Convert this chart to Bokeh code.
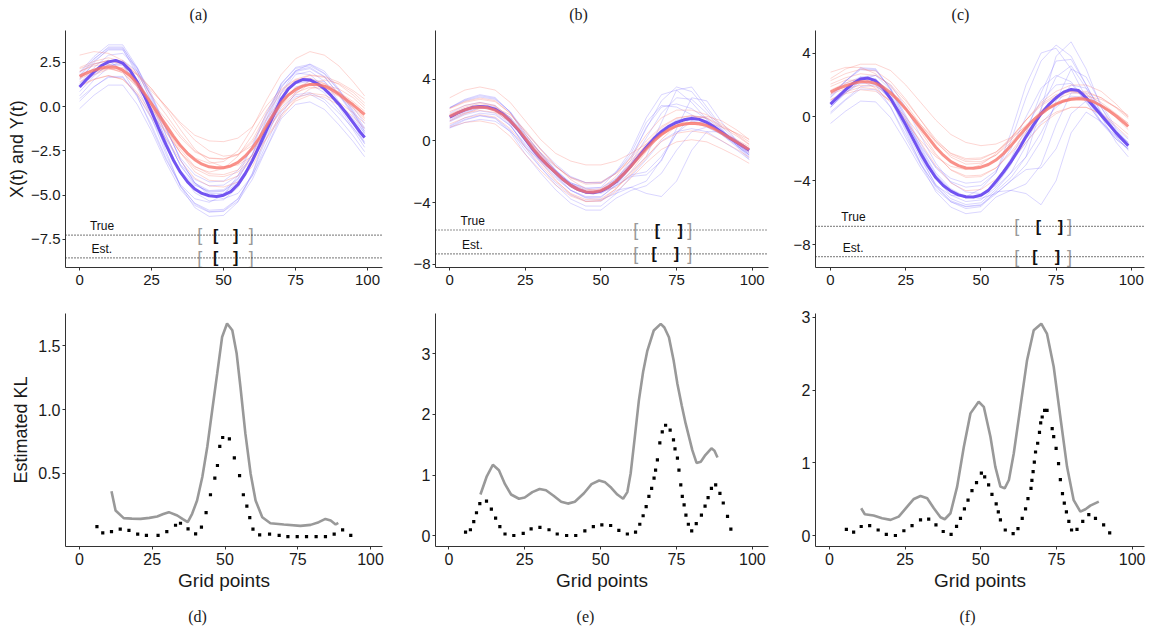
from bokeh.plotting import figure
from bokeh.layouts import column, row
from bokeh.models import Span, FixedTicker, Range1d
from bokeh.core.properties import value
from bokeh.embed import file_html
from bokeh.resources import INLINE

# ---------------- data ----------------
T = [0, 5, 10, 15, 20, 25, 30, 35, 40, 45, 50, 55, 60, 65, 70, 75, 80, 85, 90, 95, 99]
T2 = [0, 2.5, 5, 7.5, 10, 12.5, 15, 17.5, 20, 22.5, 25, 27.5, 30, 32.5, 35, 37.5, 40, 42.5, 45, 47.5,
      50, 52.5, 55, 57.5, 60, 62.5, 65, 67.5, 70, 72.5, 75, 77.5, 80, 82.5, 85, 87.5, 90, 92.5, 95, 97.5, 99]

# Panel (a)
A_blue_main = [1.1, 1.55, 1.95, 2.3, 2.52, 2.6, 2.45, 2.05, 1.4, 0.6, -0.3, -1.25, -2.15, -3.0, -3.7, -4.25, -4.65, -4.9, -5.03, -5.07,
               -5.0, -4.8, -4.4, -3.8, -3.05, -2.2, -1.3, -0.45, 0.4, 1.0, 1.35, 1.52, 1.5, 1.3, 1.0, 0.6, 0.15, -0.35, -0.9, -1.45, -1.75]
A_red_main = [1.7, 1.9, 2.05, 2.18, 2.25, 2.22, 2.05, 1.75, 1.3, 0.75, 0.15, -0.45, -1.05, -1.65, -2.2, -2.65, -3.0, -3.25, -3.4, -3.45,
              -3.45, -3.35, -3.15, -2.8, -2.35, -1.75, -1.05, -0.4, 0.2, 0.65, 0.95, 1.15, 1.25, 1.25, 1.15, 0.95, 0.7, 0.4, 0.1, -0.25, -0.45]
A_blue_faint = [
    [1.75, 2.67, 3.36, 3.36, 2.04, 0.2, -1.93, -3.77, -4.86, -5.32, -5.26, -4.57, -3.08, -0.95, 1.06, 2.04, 2.21, 1.7, 0.66, -0.49, -1.53],
    [0.84, 1.72, 2.38, 2.38, 1.11, -0.65, -2.69, -4.45, -5.49, -5.93, -5.88, -5.22, -3.79, -1.75, 0.18, 1.11, 1.28, 0.78, -0.21, -1.31, -2.3],
    [1.07, 1.79, 2.33, 2.33, 1.29, -0.15, -1.82, -3.26, -4.11, -4.47, -4.43, -3.89, -2.72, -1.05, 0.53, 1.29, 1.43, 1.02, 0.21, -0.69, -1.5],
    [1.9, 2.7, 3.3, 3.3, 2.15, 0.55, -1.3, -2.9, -3.85, -4.25, -4.2, -3.6, -2.3, -0.45, 1.3, 2.15, 2.3, 1.85, 0.95, -0.05, -0.95],
    [0.3, 1.1, 1.7, 1.7, 0.55, -1.05, -2.9, -4.5, -5.45, -5.85, -5.8, -5.2, -3.9, -2.05, -0.3, 0.55, 0.7, 0.25, -0.65, -1.65, -2.55],
    [1.49, 2.49, 3.24, 3.24, 1.8, -0.2, -2.51, -4.51, -5.7, -6.2, -6.14, -5.39, -3.76, -1.45, 0.74, 1.8, 1.99, 1.43, 0.3, -0.95, -2.08],
    [0.45, 1.13, 1.64, 1.64, 0.66, -0.7, -2.27, -3.63, -4.44, -4.78, -4.74, -4.23, -3.12, -1.55, -0.06, 0.66, 0.79, 0.41, -0.36, -1.21, -1.98],
    [1.72, 2.56, 3.19, 3.19, 1.98, 0.3, -1.64, -3.32, -4.32, -4.74, -4.69, -4.06, -2.69, -0.75, 1.09, 1.98, 2.14, 1.67, 0.72, -0.33, -1.28],
    [-0.12, 0.64, 1.21, 1.21, 0.12, -1.4, -3.16, -4.68, -5.58, -5.96, -5.91, -5.34, -4.11, -2.35, -0.69, 0.12, 0.26, -0.16, -1.02, -1.97, -2.83],
    [1.94, 2.82, 3.48, 3.48, 2.21, 0.45, -1.59, -3.35, -4.39, -4.83, -4.78, -4.12, -2.69, -0.65, 1.28, 2.21, 2.38, 1.88, 0.89, -0.21, -1.2],
    [0.6, 1.5, 2.2, 2.6, 2.0, 0.6, -1.2, -3.0, -4.3, -5.0, -5.2, -4.9, -3.9, -2.3, -0.5, 0.8, 1.5, 1.4, 0.7, -0.4, -1.4],
    [1.6, 2.4, 2.6, 2.0, 0.6, -1.2, -3.0, -4.4, -5.2, -5.4, -5.0, -3.9, -2.2, -0.3, 1.2, 1.9, 1.8, 1.1, 0.0, -1.2, -2.1],
    [1.3, 2.2, 2.9, 3.0, 2.2, 0.7, -1.2, -3.0, -4.3, -4.9, -4.9, -4.3, -3.0, -1.1, 0.8, 2.0, 2.4, 2.0, 1.0, -0.3, -1.4],
]
A_red_faint = [
    [2.2, 2.55, 2.75, 2.55, 1.8, 0.6, -0.45, -1.6, -2.5, -2.9, -2.95, -2.7, -1.9, -0.4, 0.75, 1.45, 1.75, 1.65, 1.25, 0.65, 0.05],
    [1.2, 1.55, 1.75, 1.55, 0.8, -0.4, -1.45, -2.6, -3.5, -3.9, -3.95, -3.7, -2.9, -1.4, -0.25, 0.45, 0.75, 0.65, 0.25, -0.35, -0.95],
    [1.57, 1.93, 2.14, 1.93, 1.15, -0.11, -1.22, -2.43, -3.37, -3.79, -3.84, -3.58, -2.74, -1.17, 0.04, 0.78, 1.09, 0.99, 0.57, -0.06, -0.69],
    [2.0, 2.3, 2.4, 2.1, 1.3, 0.0, -1.2, -2.2, -2.9, -3.2, -3.1, -2.5, -1.2, 0.4, 1.8, 2.7, 3.1, 2.9, 2.3, 1.4, 0.6],
    [1.96, 2.38, 2.62, 2.38, 1.48, 0.04, -1.22, -2.6, -3.68, -4.16, -4.22, -3.92, -2.96, -1.16, 0.22, 1.06, 1.42, 1.3, 0.82, 0.1, -0.62],
    [1.67, 1.99, 2.17, 1.99, 1.31, 0.23, -0.72, -1.75, -2.56, -2.92, -2.97, -2.74, -2.02, -0.67, 0.37, 1.0, 1.27, 1.18, 0.82, 0.28, -0.26],
    [1.13, 1.52, 1.74, 1.52, 0.69, -0.63, -1.79, -3.05, -4.04, -4.48, -4.54, -4.26, -3.38, -1.73, -0.46, 0.31, 0.64, 0.53, 0.09, -0.57, -1.23],
    [2.14, 2.42, 2.58, 2.42, 1.82, 0.86, 0.02, -0.9, -1.62, -1.94, -1.98, -1.78, -1.14, 0.06, 0.98, 1.54, 1.78, 1.7, 1.38, 0.9, 0.42],
    [2.9, 3.1, 3.0, 2.6, 1.9, 1.0, 0.0, -1.0, -1.9, -2.5, -2.8, -2.7, -2.2, -1.3, -0.2, 0.7, 1.3, 1.5, 1.3, 0.8, 0.2],
    [1.4, 1.8, 2.1, 2.2, 1.8, 1.0, -0.1, -1.3, -2.4, -3.1, -3.4, -3.3, -2.8, -1.8, -0.6, 0.4, 1.0, 1.2, 1.0, 0.5, -0.1],
    [1.8, 2.1, 2.2, 1.9, 1.1, -0.1, -1.4, -2.6, -3.4, -3.7, -3.5, -2.8, -1.6, -0.2, 0.9, 1.5, 1.6, 1.3, 0.7, -0.1, -0.8],
]
A_true_y, A_est_y = -7.25, -8.54
A_true_outer, A_true_inner = [40.9, 60.5], [46.3, 55.1]
A_est_outer, A_est_inner = [40.9, 60.5], [46.3, 55.1]

# Panel (b)
B_blue_main = [1.55, 1.8, 2.02, 2.18, 2.24, 2.2, 2.05, 1.75, 1.3, 0.75, 0.1, -0.55, -1.1, -1.6, -2.05, -2.5, -2.88, -3.15, -3.32, -3.36,
               -3.25, -3.0, -2.65, -2.15, -1.6, -1.0, -0.4, 0.15, 0.6, 0.95, 1.2, 1.37, 1.45, 1.4, 1.2, 0.9, 0.55, 0.2, -0.1, -0.4, -0.6]
B_red_main = [1.6, 1.82, 2.02, 2.15, 2.2, 2.15, 2.0, 1.72, 1.3, 0.78, 0.15, -0.5, -1.08, -1.6, -2.05, -2.5, -2.88, -3.15, -3.3, -3.32,
              -3.22, -2.98, -2.62, -2.15, -1.62, -1.05, -0.5, 0.0, 0.42, 0.75, 0.98, 1.1, 1.15, 1.12, 1.0, 0.78, 0.5, 0.2, -0.08, -0.38, -0.55]
B_blue_faint = [
    [2.15, 2.6, 2.85, 2.7, 1.9, 0.6, -0.5, -1.5, -2.3, -2.7, -2.7, -2.0, -1.0, 0.8, 2.6, 3.5, 3.2, 2.0, 0.8, -0.3, -1.0],
    [0.95, 1.4, 1.65, 1.5, 0.7, -0.6, -1.7, -2.7, -3.5, -3.9, -3.9, -3.2, -3.0, -3.4, -3.6, -2.6, -0.6, 0.6, 0.6, -0.1, -0.7],
    [2.16, 2.7, 3.0, 2.82, 1.86, 0.3, -1.02, -2.22, -3.18, -3.66, -3.66, -2.82, -2.0, -1.0, 1.2, 3.3, 3.5, 2.2, 0.9, 0.0, -0.5],
    [0.84, 1.2, 1.4, 1.28, 0.64, -0.4, -1.28, -2.08, -2.72, -3.04, -3.04, -2.48, -1.5, -0.3, 0.75, 1.35, 1.55, 1.3, 0.65, 0.05, -0.5],
    [0.86, 1.35, 1.63, 1.46, 0.58, -0.85, -2.06, -3.16, -4.04, -4.48, -4.48, -3.71, -3.2, -2.9, -2.1, -0.6, 0.6, 0.9, 0.4, -0.3, -0.9],
    [1.65, 2.05, 2.28, 2.14, 1.42, 0.25, -0.74, -1.64, -2.36, -2.72, -2.72, -2.09, -0.8, 1.2, 2.3, 2.2, 1.7, 1.1, 0.4, -0.4, -1.2],
    [1.3, 1.8, 2.15, 2.15, 1.55, 0.4, -0.8, -1.9, -2.8, -3.3, -3.4, -2.9, -2.3, -2.2, -1.3, 0.8, 2.8, 2.6, 1.2, 0.0, -0.7],
    [2.16, 2.65, 2.93, 2.76, 1.88, 0.45, -0.76, -1.86, -2.74, -3.18, -3.18, -2.41, -1.4, 0.2, 1.8, 2.8, 2.7, 1.8, 0.7, -0.3, -1.1],
    [1.25, 1.7, 1.95, 1.8, 1.0, -0.3, -1.4, -2.4, -3.2, -3.6, -3.6, -2.9, -2.2, -2.0, -1.0, 0.5, 1.6, 1.5, 0.7, -0.2, -0.9],
    [1.36, 1.88, 2.16, 1.99, 1.07, -0.42, -1.69, -2.84, -3.76, -4.22, -4.22, -3.42, -2.3, -1.2, 0.0, 0.6, 0.8, 0.6, 0.0, -0.6, -1.2],
    [1.8, 2.3, 2.5, 2.3, 1.5, 0.2, -0.9, -1.9, -2.7, -3.1, -3.0, -2.0, -0.6, 1.5, 3.0, 3.3, 2.5, 1.4, 0.5, -0.3, -0.9],
    [1.0, 1.5, 1.8, 1.7, 1.0, -0.2, -1.3, -2.3, -3.2, -3.7, -3.8, -3.4, -3.0, -2.6, -1.2, 0.5, 1.3, 1.1, 0.5, -0.2, -0.8],
    [1.5, 2.0, 2.3, 2.2, 1.4, 0.1, -1.0, -2.0, -2.9, -3.4, -3.3, -2.5, -1.2, 0.9, 2.2, 2.4, 2.1, 1.4, 0.6, -0.2, -0.8],
]
B_red_faint = [
    [2.1, 2.5, 2.7, 2.55, 1.8, 0.6, -0.55, -1.6, -2.4, -2.8, -2.75, -2.1, -1.1, 0.0, 0.95, 1.5, 1.65, 1.5, 1.0, 0.45, -0.05],
    [1.1, 1.5, 1.7, 1.55, 0.8, -0.4, -1.55, -2.6, -3.4, -3.8, -3.75, -3.1, -2.1, -1.0, -0.05, 0.5, 0.65, 0.5, 0.0, -0.55, -1.05],
    [2.8, 3.3, 3.5, 3.3, 2.5, 1.3, 0.1, -0.8, -1.3, -1.55, -1.55, -1.3, -0.8, -0.2, 0.4, 0.9, 1.2, 1.2, 0.9, 0.5, 0.1],
    [1.73, 2.19, 2.42, 2.25, 1.39, 0.01, -1.32, -2.53, -3.45, -3.91, -3.85, -3.1, -1.95, -0.68, 0.41, 1.04, 1.21, 1.04, 0.47, -0.17, -0.74],
    [1.47, 1.81, 1.98, 1.85, 1.22, 0.2, -0.78, -1.68, -2.36, -2.7, -2.65, -2.1, -1.25, -0.31, 0.49, 0.96, 1.09, 0.96, 0.54, 0.07, -0.36],
    [1.3, 1.75, 2.1, 2.15, 1.7, 0.7, -0.5, -1.6, -2.5, -3.1, -3.3, -3.0, -2.2, -1.1, 0.1, 1.0, 1.5, 1.6, 1.3, 0.7, 0.1],
    [0.9, 1.2, 1.3, 1.1, 0.3, -0.87, -1.91, -2.85, -3.57, -3.93, -3.89, -3.3, -2.4, -1.41, -0.55, -0.06, 0.08, -0.06, -0.51, -1.0, -1.45],
    [2.12, 2.56, 2.78, 2.62, 1.79, 0.47, -0.8, -1.95, -2.83, -3.27, -3.22, -2.5, -1.4, -0.19, 0.86, 1.46, 1.63, 1.46, 0.91, 0.31, -0.24],
    [1.9, 2.3, 2.5, 2.3, 1.5, 0.3, -0.9, -2.0, -2.8, -3.2, -3.1, -2.3, -1.0, 0.4, 1.5, 2.0, 2.0, 1.7, 1.1, 0.4, -0.2],
]
B_true_y, B_est_y = -5.77, -7.32
B_true_outer, B_true_inner = [60.7, 80.2], [67.8, 77.1]
B_est_outer, B_est_inner = [60.7, 80.2], [66.7, 75.8]

# Panel (c)
C_blue_main = [0.8, 1.25, 1.7, 2.1, 2.37, 2.43, 2.25, 1.8, 1.15, 0.35, -0.5, -1.4, -2.3, -3.1, -3.8, -4.3, -4.65, -4.88, -5.0, -5.02,
               -4.9, -4.6, -4.05, -3.45, -2.8, -2.05, -1.25, -0.5, 0.2, 0.75, 1.2, 1.55, 1.72, 1.65, 1.2, 0.65, 0.1, -0.45, -1.0, -1.5, -1.8]
C_red_main = [1.55, 1.78, 1.95, 2.1, 2.2, 2.2, 2.1, 1.85, 1.5, 1.05, 0.5, -0.1, -0.7, -1.3, -1.9, -2.4, -2.8, -3.05, -3.2, -3.22,
              -3.15, -2.98, -2.7, -2.3, -1.8, -1.25, -0.7, -0.2, 0.2, 0.55, 0.8, 1.0, 1.1, 1.15, 1.1, 0.95, 0.7, 0.4, 0.05, -0.35, -0.6]
C_blue_faint = [
    [1.4, 2.25, 2.95, 2.9, 1.8, 0.1, -1.7, -3.2, -4.05, -4.4, -4.3, -3.5, -1.5, 1.2, 3.5, 4.5, 3.8, 2.0, 0.3, -1.0, -1.6],
    [0.2, 1.05, 1.75, 1.7, 0.6, -1.1, -2.9, -4.4, -5.25, -5.6, -5.5, -4.7, -4.6, -4.8, -5.5, -4.0, -1.0, 0.3, -0.3, -1.3, -2.0],
    [1.22, 2.24, 3.08, 3.02, 1.7, -0.34, -2.5, -4.3, -5.32, -5.74, -5.62, -4.66, -3.8, -2.5, 0.5, 3.8, 4.7, 3.0, 0.6, -1.0, -1.8],
    [0.79, 1.51, 2.1, 2.06, 1.13, -0.32, -1.85, -3.13, -3.85, -4.15, -4.06, -3.38, -2.0, 0.0, 1.8, 2.6, 2.2, 1.0, -0.4, -1.4, -2.0],
    [0.62, 1.59, 2.4, 2.34, 1.08, -0.88, -2.95, -4.68, -5.65, -6.06, -5.94, -5.02, -4.6, -4.2, -3.0, -0.5, 1.5, 1.5, 0.2, -1.1, -1.9],
    [0.6, 1.5, 2.3, 2.6, 2.0, 0.6, -1.2, -2.9, -4.1, -4.7, -4.8, -4.3, -3.0, -1.0, 1.5, 3.5, 3.6, 2.0, 0.2, -1.2, -2.1],
    [-0.41, 0.36, 0.99, 0.94, -0.05, -1.58, -3.2, -4.55, -5.32, -5.63, -5.54, -4.82, -4.0, -3.3, -3.2, -2.0, 0.2, 1.0, 0.2, -1.0, -1.8],
    [1.31, 2.25, 3.02, 2.96, 1.75, -0.12, -2.1, -3.75, -4.69, -5.07, -4.96, -4.08, -2.6, -0.7, 1.0, 2.0, 2.1, 0.9, -0.3, -1.2, -1.7],
    [0.61, 1.5, 2.23, 2.18, 1.03, -0.76, -2.65, -4.23, -5.12, -5.49, -5.38, -4.54, -3.5, -2.5, -1.0, 0.8, 2.0, 1.8, 0.6, -0.8, -1.6],
    [1.2, 2.1, 2.5, 2.0, 0.6, -1.3, -3.0, -4.3, -4.9, -5.0, -4.5, -3.5, -1.0, 2.0, 4.0, 4.3, 3.0, 1.2, -0.3, -1.4, -2.0],
    [1.0, 1.8, 2.5, 2.6, 1.7, 0.0, -1.9, -3.5, -4.5, -5.0, -5.1, -4.8, -4.0, -3.0, -1.5, 1.0, 3.0, 2.5, 0.8, -0.7, -1.4],
    [0.3, 1.1, 1.9, 2.0, 1.1, -0.5, -2.3, -3.9, -4.9, -5.3, -5.2, -4.4, -3.5, -1.8, 0.5, 2.5, 3.2, 1.8, 0.0, -1.6, -2.5],
    [0.9, 1.7, 2.4, 2.4, 1.4, -0.2, -2.0, -3.6, -4.6, -5.1, -5.0, -4.2, -2.9, -1.6, -0.4, 0.6, 1.3, 1.2, 0.3, -0.9, -1.7],
]
C_red_faint = [
    [2.05, 2.45, 2.7, 2.6, 2.0, 1.0, -0.2, -1.4, -2.3, -2.7, -2.65, -2.2, -1.3, -0.2, 0.7, 1.3, 1.6, 1.6, 1.2, 0.55, -0.1],
    [1.05, 1.45, 1.7, 1.6, 1.0, 0.0, -1.2, -2.4, -3.3, -3.7, -3.65, -3.2, -2.3, -1.2, -0.3, 0.3, 0.6, 0.6, 0.2, -0.45, -1.1],
    [2.4, 3.0, 3.3, 3.3, 2.9, 2.0, 0.9, -0.2, -1.1, -1.6, -1.8, -1.7, -1.3, -0.6, 0.2, 0.8, 1.2, 1.3, 1.1, 0.6, 0.1],
    [1.67, 2.13, 2.42, 2.31, 1.62, 0.47, -0.92, -2.3, -3.33, -3.79, -3.74, -3.2, -2.2, -0.95, 0.1, 0.8, 1.15, 1.15, 0.7, -0.05, -0.8],
    [1.43, 1.77, 1.98, 1.9, 1.39, 0.54, -0.49, -1.51, -2.27, -2.61, -2.57, -2.2, -1.45, -0.5, 0.3, 0.8, 1.05, 1.05, 0.7, 0.15, -0.4],
    [1.08, 1.56, 1.86, 1.74, 1.02, -0.18, -1.62, -3.06, -4.14, -4.62, -4.55, -3.9, -2.8, -1.6, -0.5, 0.2, 0.6, 0.6, 0.15, -0.6, -1.3],
    [2.27, 2.71, 2.98, 2.87, 2.21, 1.11, -0.21, -1.53, -2.52, -2.96, -2.9, -2.4, -1.4, -0.2, 0.9, 1.6, 2.0, 2.0, 1.6, 0.8, 0.0],
    [1.9, 2.3, 2.3, 1.8, 0.9, -0.3, -1.5, -2.5, -3.1, -3.3, -3.0, -2.3, -1.3, -0.2, 0.8, 1.4, 1.6, 1.4, 0.9, 0.2, -0.4],
    [2.8, 3.1, 3.1, 2.7, 1.9, 0.8, -0.5, -1.6, -2.4, -2.8, -2.8, -2.4, -1.6, -0.6, 0.4, 1.1, 1.5, 1.5, 1.2, 0.6, 0.0],
]
C_true_y, C_est_y = -6.86, -8.75
C_true_outer, C_true_inner = [61.1, 80.3], [68.2, 77.3]
C_est_outer, C_est_inner = [61.1, 80.3], [67.1, 76.3]

# Panel (d)
D_gray_x = [11.0, 12.4, 15.2, 18.0, 21.0, 24.0, 26.7, 28.8, 30.7, 33.6, 35.5, 37.2, 38.7, 40.4, 42.2, 43.9, 45.6, 47.3, 49.0, 50.7, 52.5, 54.0, 55.3, 57.0, 58.8, 60.5, 62.8, 65.6, 70.2, 75.9, 79.4, 82.2, 84.5, 86.3, 88.0, 88.9]
D_gray_y = [0.358, 0.206, 0.146, 0.142, 0.14, 0.148, 0.159, 0.178, 0.193, 0.167, 0.138, 0.114, 0.18, 0.285, 0.47, 0.705, 0.994, 1.28, 1.57, 1.676, 1.623, 1.44, 1.177, 0.81, 0.495, 0.285, 0.153, 0.106, 0.096, 0.085, 0.093, 0.114, 0.14, 0.127, 0.096, 0.109]
D_dot_x = [6, 8, 11, 14, 17, 20, 23, 27, 30, 33, 34.7, 37.3, 39.9, 41.9, 43.5, 45, 46.5, 47.4, 48.2, 49.2, 51.5, 53.2, 55, 56.3, 57.5, 58.5, 59.6, 61.9, 65.3, 68.6, 71.6, 74.8, 78, 81.3, 84.5, 87.5, 90.4, 93.2]
D_dot_y = [0.08, 0.03, 0.04, 0.06, 0.05, 0.02, 0.01, 0.01, 0.04, 0.09, 0.106, 0.062, 0.023, 0.075, 0.19, 0.33, 0.46, 0.56, 0.71, 0.78, 0.77, 0.62, 0.48, 0.33, 0.24, 0.15, 0.06, 0.015, 0.02, 0.01, 0.0, 0.0, 0.0, 0.0, 0.0, 0.02, 0.054, 0.01]

# Panel (e)
E_gray_x = [10.4, 12.5, 14.5, 16.5, 18.5, 20.5, 23.1, 25.0, 27.5, 29.9, 32.0, 34.5, 37.0, 39.2, 41.5, 44.5, 47.0, 49.5, 51.5, 53.5, 55.5, 57.4, 58.8, 59.9, 61.2, 62.6, 64.0, 65.4, 67.5, 69.8, 71.0, 72.5, 74.0, 75.3, 76.7, 78.0, 80.2, 81.6, 83.0, 84.5, 86.5, 87.5, 88.5]
E_gray_y = [0.68, 0.98, 1.17, 1.08, 0.85, 0.68, 0.61, 0.63, 0.72, 0.77, 0.75, 0.66, 0.56, 0.53, 0.56, 0.7, 0.85, 0.91, 0.88, 0.79, 0.68, 0.61, 0.72, 1.03, 1.6, 2.23, 2.7, 3.05, 3.38, 3.49, 3.43, 3.27, 2.9, 2.5, 2.15, 1.85, 1.41, 1.2, 1.22, 1.33, 1.44, 1.4, 1.29]
E_dot_x = [5.5, 7.1, 8.2, 9.1, 10.2, 12.4, 14.0, 15.4, 16.8, 18.5, 21.4, 24.5, 27.1, 30.0, 33.0, 35.7, 38.8, 41.8, 44.8, 47.6, 50.4, 53.3, 56.0, 58.8, 61.5, 62.9, 64.0, 65.0, 65.9, 66.8, 67.6, 68.1, 68.7, 69.5, 70.3, 71.4, 72.9, 74.0, 74.5, 75.3, 75.8, 76.4, 76.9, 77.5, 78.1, 78.9, 80.0, 81.5, 83.2, 84.4, 85.4, 86.5, 87.9, 89.3, 90.4, 91.8, 92.9]
E_dot_y = [0.06, 0.1, 0.235, 0.38, 0.53, 0.57, 0.44, 0.29, 0.15, 0.03, 0.005, 0.04, 0.115, 0.14, 0.1, 0.03, 0.005, 0.005, 0.08, 0.15, 0.18, 0.17, 0.09, 0.03, 0.06, 0.19, 0.33, 0.48, 0.65, 0.78, 0.95, 1.08, 1.25, 1.53, 1.71, 1.82, 1.74, 1.58, 1.43, 1.28, 1.08, 0.84, 0.65, 0.51, 0.34, 0.19, 0.08, 0.2, 0.34, 0.49, 0.63, 0.78, 0.84, 0.7, 0.54, 0.32, 0.11]

# Panel (f)
F_gray_x = [10.5, 11.7, 14.6, 17.4, 20.2, 22.9, 25.7, 27.9, 30.1, 32.3, 34.5, 36.7, 38.1, 40.0, 42.2, 44.4, 46.6, 49.3, 51.0, 53.2, 54.8, 56.5, 57.9, 59.3, 60.9, 63.1, 65.3, 67.5, 70.0, 71.9, 74.1, 76.3, 78.5, 80.7, 82.9, 84.6, 86.2, 89.0]
F_gray_y = [0.378, 0.296, 0.278, 0.242, 0.219, 0.264, 0.4, 0.506, 0.547, 0.515, 0.378, 0.255, 0.228, 0.31, 0.675, 1.22, 1.68, 1.84, 1.77, 1.36, 0.95, 0.675, 0.652, 0.766, 1.13, 1.77, 2.41, 2.82, 2.91, 2.77, 2.32, 1.63, 0.95, 0.49, 0.333, 0.365, 0.415, 0.47]
F_dot_x = [5.6, 8.0, 10.5, 13.3, 16.1, 18.8, 21.8, 24.6, 27.3, 30.1, 32.8, 35.2, 37.6, 40.2, 42.0, 43.3, 44.6, 45.8, 47.1, 48.6, 50.2, 51.3, 52.6, 53.7, 55.1, 55.8, 56.5, 58.1, 60.7, 62.3, 63.7, 64.8, 65.6, 66.6, 66.9, 67.3, 67.7, 68.1, 68.8, 69.4, 69.8, 70.3, 71.1, 71.9, 73.6, 74.1, 74.9, 75.7, 76.3, 77.0, 77.6, 78.3, 79.1, 80.0, 81.8, 83.7, 85.7, 87.9, 90.6, 92.6]
F_dot_y = [0.09, 0.05, 0.128, 0.14, 0.08, 0.02, 0.005, 0.07, 0.14, 0.22, 0.23, 0.15, 0.06, 0.02, 0.13, 0.24, 0.37, 0.49, 0.62, 0.73, 0.86, 0.81, 0.7, 0.57, 0.44, 0.33, 0.22, 0.08, 0.03, 0.1, 0.24, 0.37, 0.51, 0.65, 0.76, 0.88, 1.01, 1.15, 1.27, 1.42, 1.55, 1.63, 1.72, 1.72, 1.47, 1.36, 1.2, 0.99, 0.77, 0.58, 0.45, 0.33, 0.2, 0.08, 0.09, 0.2, 0.29, 0.24, 0.15, 0.04]

X_TICKS = [0, 25, 50, 75, 100]
CAPTIONS_TOP = ["(a)", "(b)", "(c)"]
CAPTIONS_BOTTOM = ["(d)", "(e)", "(f)"]

# ---------------- styling ----------------
SANS = "Liberation Sans"
SERIF = "Liberation Serif"
BLUE = "#6A4BF0"
RED = "#F8766D"
FAINT_BLUE = "#6A5AFF"
FAINT_RED = "#F8766D"
GRAY = "#999999"
AXIS = "#333333"

COLS = [  # (width, border_left, border_right)
    (395, 65, 13),
    (395, 40, 22),
    (358, 25, 4),
]
TOP_CAPTION_X = [198, 578, 960]      # page x of caption centres
BOTTOM_CAPTION_X = [197, 585, 967]
STRIP_W = sum(c[0] for c in COLS)


def mlabel(v, fmt):
    return fmt.format(v).replace("-", "\u2212")


def style_axes(p, yticks, yfmt, tick_size, xstand):
    p.xaxis.ticker = FixedTicker(ticks=X_TICKS)
    p.yaxis.ticker = FixedTicker(ticks=yticks)
    p.yaxis.major_label_overrides = {v: mlabel(v, yfmt) for v in yticks}
    for ax in (p.xaxis[0], p.yaxis[0]):
        ax.axis_line_color = AXIS
        ax.axis_line_width = 1
        ax.major_tick_line_color = AXIS
        ax.major_tick_out = 3
        ax.major_tick_in = 0
        ax.minor_tick_line_color = None
        ax.major_label_text_font = SANS
        ax.major_label_text_font_size = tick_size
        ax.major_label_text_color = "#1a1a1a"
        ax.major_label_standoff = 2
        ax.axis_label_text_font = SANS
        ax.axis_label_text_font_style = "normal"
        ax.axis_label_text_color = "#1a1a1a"
    p.xaxis.major_label_standoff = xstand
    p.xgrid.visible = False
    p.ygrid.visible = False
    p.outline_line_color = None
    p.background_fill_color = "white"
    p.border_fill_color = "white"


def caption_strip(height, xs, texts, ypos):
    s = figure(width=STRIP_W, height=height, x_range=Range1d(0, STRIP_W), y_range=Range1d(0, height),
               output_backend="svg", toolbar_location=None, x_axis_type=None, y_axis_type=None,
               min_border=0)
    s.title.visible = False
    s.outline_line_color = None
    s.xgrid.visible = False
    s.ygrid.visible = False
    s.text(x=xs, y=[ypos] * len(xs), text=texts, text_font=value(SERIF),
           text_font_size=value("16px"), text_color="#1a1a1a", text_align="center",
           text_baseline="middle")
    return s


def top_panel(col, xr, yr, yticks, yfmt, blue_main, red_main,
              blue_faint, red_faint, true_y, est_y, t_out, t_in, e_out, e_in, ylabel=None):
    w, bl, br = COLS[col]
    p = figure(width=w, height=260, x_range=xr, y_range=yr, output_backend="svg",
               toolbar_location=None, min_border_left=bl, min_border_right=br,
               min_border_top=0, min_border_bottom=23)
    p.title.visible = False
    style_axes(p, yticks, yfmt, "15px", 4)
    if ylabel:
        p.yaxis.axis_label = ylabel
        p.yaxis.axis_label_text_font_size = "18px"
        p.yaxis.axis_label_standoff = 1

    for c in blue_faint:
        p.line(T, c, color=FAINT_BLUE, alpha=0.25, line_width=1)
    for c in red_faint:
        p.line(T, c, color=FAINT_RED, alpha=0.3, line_width=1)
    p.line(T2, blue_main, color=BLUE, line_width=3, alpha=0.95)
    p.line(T2, red_main, color=RED, line_width=3, alpha=0.8)

    for yv in (true_y, est_y):
        p.add_layout(Span(location=yv, dimension="width", line_color="#222222",
                          line_dash="1 2", line_width=1.2))
    for yv, outer, inner in ((true_y, t_out, t_in), (est_y, e_out, e_in)):
        p.text(x=[outer[0]], y=[yv], text=["["], text_color="#9a9a9a", text_font=value(SANS),
               text_font_size=value("18px"), text_align="left", text_baseline="middle")
        p.text(x=[outer[1]], y=[yv], text=["]"], text_color="#9a9a9a", text_font=value(SANS),
               text_font_size=value("18px"), text_align="right", text_baseline="middle")
        p.text(x=[inner[0]], y=[yv], text=["["], text_color="#111111", text_font=value(SANS),
               text_font_size=value("16px"), text_align="left", text_baseline="middle",
               text_font_style="bold")
        p.text(x=[inner[1]], y=[yv], text=["]"], text_color="#111111", text_font=value(SANS),
               text_font_size=value("16px"), text_align="right", text_baseline="middle",
               text_font_style="bold")
    p.text(x=[3.6], y=[true_y], text=["True"], text_color="#111111", text_font=value(SANS),
           text_font_size=value("12px"), text_align="left", text_baseline="middle", y_offset=-9)
    p.text(x=[4.1], y=[est_y], text=["Est."], text_color="#111111", text_font=value(SANS),
           text_font_size=value("12px"), text_align="left", text_baseline="middle", y_offset=-9)
    return p


def bottom_panel(col, xr, yr, yticks, yfmt, gx, gy, dx, dy, ylabel=None, ystand=4):
    w, bl, br = COLS[col]
    p = figure(width=w, height=306, x_range=xr, y_range=yr, output_backend="svg",
               toolbar_location=None, min_border_left=bl, min_border_right=br,
               min_border_top=23, min_border_bottom=50)
    p.title.visible = False
    style_axes(p, yticks, yfmt, "16px", 3)
    p.xaxis.axis_label = "Grid points"
    p.xaxis.axis_label_text_font_size = "19px"
    p.xaxis.axis_label_standoff = 2
    if ylabel:
        p.yaxis.axis_label = ylabel
        p.yaxis.axis_label_text_font_size = "18px"
        p.yaxis.axis_label_standoff = ystand
    p.line(gx, gy, color=GRAY, line_width=2.6)
    p.scatter(dx, dy, marker="square", size=3.2, color="black", line_width=0)
    return p


pa = top_panel(0, (-4.9, 105.2), (-9.08, 4.29), [-7.5, -5.0, -2.5, 0.0, 2.5], "{:.1f}",
               A_blue_main, A_red_main, A_blue_faint, A_red_faint, A_true_y, A_est_y,
               A_true_outer, A_true_inner, A_est_outer, A_est_inner, ylabel="X(t) and Y(t)")
pb = top_panel(1, (-4.7, 105.4), (-8.2, 7.16), [-8, -4, 0, 4], "{:d}",
               B_blue_main, B_red_main, B_blue_faint, B_red_faint, B_true_y, B_est_y,
               B_true_outer, B_true_inner, B_est_outer, B_est_inner)
pc = top_panel(2, (-5.0, 104.4), (-9.43, 5.41), [-8, -4, 0, 4], "{:d}",
               C_blue_main, C_red_main, C_blue_faint, C_red_faint, C_true_y, C_est_y,
               C_true_outer, C_true_inner, C_est_outer, C_est_inner)

pd_ = bottom_panel(0, (-4.8, 104.1), (-0.077, 1.755), [0.5, 1.0, 1.5], "{:.1f}",
                   D_gray_x, D_gray_y, D_dot_x, D_dot_y, ylabel="Estimated KL", ystand=4)
pe = bottom_panel(1, (-4.4, 105.3), (-0.176, 3.66), [0, 1, 2, 3], "{:d}",
                  E_gray_x, E_gray_y, E_dot_x, E_dot_y)
pf = bottom_panel(2, (-4.6, 104.1), (-0.146, 3.05), [0, 1, 2, 3], "{:d}",
                  F_gray_x, F_gray_y, F_dot_x, F_dot_y)

top_strip = caption_strip(30, TOP_CAPTION_X, CAPTIONS_TOP, 16)
bottom_strip = caption_strip(33, BOTTOM_CAPTION_X, CAPTIONS_BOTTOM, 13)

layout = column(top_strip, row(pa, pb, pc), row(pd_, pe, pf), bottom_strip)
open("out.html", "w").write(file_html(layout, INLINE))
